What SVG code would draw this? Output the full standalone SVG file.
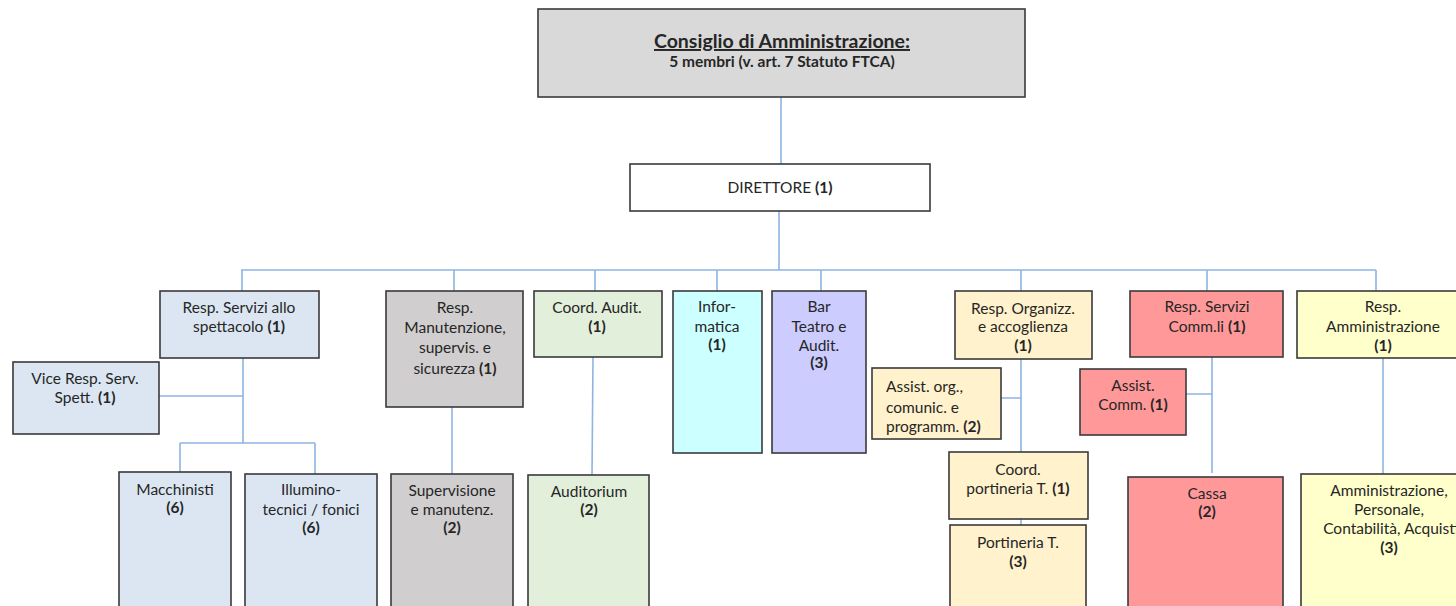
<svg xmlns="http://www.w3.org/2000/svg" width="1456" height="606" viewBox="0 0 1456 606">
<style>
.n{stroke:#3a3a3a;stroke-width:1.6}
.t{font-family:Lato,"Liberation Sans",Arial,sans-serif;font-size:15.5px;fill:#262626;text-anchor:middle}
.l{text-anchor:start}
.b{font-weight:bold}
.c{fill:none;stroke:#8eb4e3;stroke-width:1.6}
.blue{fill:#dce6f2}.grey{fill:#d0cece}.green{fill:#e2efda}.cyan{fill:#ccffff}.lav{fill:#ccccff}.peach{fill:#fff2cc}.red{fill:#ff9999}.yel{fill:#ffffcc}
</style>
<rect width="1456" height="606" fill="#ffffff"/>
<g id="connectors">
<path class="c" d="M781 97V164"/>
<path class="c" d="M779 211V270"/>
<path class="c" d="M241 270H1376"/>
<path class="c" d="M242 270V291M454 270V291M595 270V291M717 270V291M821 270V291M1021 270V291M1207 270V291M1376 270V291"/>
<path class="c" d="M243 358V443M159 396H243M180 443H315M180 443V472M315 443V474"/>
<path class="c" d="M452 407V474"/>
<path class="c" d="M593 357L592 475"/>
<path class="c" d="M1021 359V452M1001 398H1021M1021 519V525"/>
<path class="c" d="M1212 357V473M1186 394H1212"/>
<path class="c" d="M1383 358V474"/>
</g>
<g id="cda">
<rect class="n" x="538" y="9" width="487" height="88" fill="#d9d9d9"/>
<text class="t b" x="782" y="48" style="font-size:19.5px;text-decoration:underline">Consiglio di Amministrazione:</text>
<text class="t b" x="782" y="67" style="font-size:15.5px">5 membri (v. art. 7 Statuto FTCA)</text>
</g>
<g id="direttore">
<rect class="n" x="630" y="164" width="300" height="47" fill="#ffffff"/>
<text class="t" x="780" y="193">DIRETTORE <tspan class="b">(1)</tspan></text>
</g>
<g id="resp-servizi-spettacolo">
<rect class="n blue" x="160" y="291" width="159" height="67"/>
<text class="t" x="239" y="313">Resp. Servizi allo</text>
<text class="t" x="239" y="332">spettacolo <tspan class="b">(1)</tspan></text>
</g>
<g id="vice-resp">
<rect class="n blue" x="13" y="362" width="146" height="72"/>
<text class="t" x="85" y="384">Vice Resp. Serv.</text>
<text class="t" x="85" y="403">Spett. <tspan class="b">(1)</tspan></text>
</g>
<g id="macchinisti">
<rect class="n blue" x="119" y="472" width="112" height="145"/>
<text class="t" x="175" y="495">Macchinisti</text>
<text class="t b" x="175" y="513">(6)</text>
</g>
<g id="illuminotecnici">
<rect class="n blue" x="245" y="474" width="132" height="145"/>
<text class="t" x="311" y="495">Illumino-</text>
<text class="t" x="311" y="515">tecnici / fonici</text>
<text class="t b" x="311" y="533">(6)</text>
</g>
<g id="resp-manutenzione">
<rect class="n grey" x="386" y="291" width="137" height="116"/>
<text class="t" x="455" y="313">Resp.</text>
<text class="t" x="455" y="333">Manutenzione,</text>
<text class="t" x="455" y="353">supervis. e</text>
<text class="t" x="455" y="374">sicurezza <tspan class="b">(1)</tspan></text>
</g>
<g id="supervisione">
<rect class="n grey" x="391" y="474" width="122" height="145"/>
<text class="t" x="452" y="496">Supervisione</text>
<text class="t" x="452" y="515">e manutenz.</text>
<text class="t b" x="452" y="533">(2)</text>
</g>
<g id="coord-audit">
<rect class="n green" x="534" y="291" width="128" height="66"/>
<text class="t" x="597" y="313">Coord. Audit.</text>
<text class="t b" x="597" y="332">(1)</text>
</g>
<g id="auditorium">
<rect class="n green" x="528" y="475" width="121" height="145"/>
<text class="t" x="589" y="497">Auditorium</text>
<text class="t b" x="589" y="515">(2)</text>
</g>
<g id="informatica">
<rect class="n cyan" x="673" y="291" width="89" height="162"/>
<text class="t" x="717" y="312">Infor-</text>
<text class="t" x="717" y="332">matica</text>
<text class="t b" x="717" y="350">(1)</text>
</g>
<g id="bar">
<rect class="n lav" x="772" y="291" width="94" height="162"/>
<text class="t" x="819" y="312">Bar</text>
<text class="t" x="819" y="332">Teatro e</text>
<text class="t" x="819" y="351">Audit.</text>
<text class="t b" x="819" y="368">(3)</text>
</g>
<g id="resp-organizz">
<rect class="n peach" x="955" y="291" width="137" height="68"/>
<text class="t" x="1023" y="314">Resp. Organizz.</text>
<text class="t" x="1023" y="332">e accoglienza</text>
<text class="t b" x="1023" y="351">(1)</text>
</g>
<g id="assist-org">
<rect class="n peach" x="872" y="368" width="129" height="71"/>
<text class="t l" x="886" y="392">Assist. org.,</text>
<text class="t l" x="886" y="413">comunic. e</text>
<text class="t l" x="886" y="432">programm. <tspan class="b">(2)</tspan></text>
</g>
<g id="coord-portineria">
<rect class="n peach" x="949" y="452" width="139" height="67"/>
<text class="t" x="1018" y="475">Coord.</text>
<text class="t" x="1018" y="494">portineria T. <tspan class="b">(1)</tspan></text>
</g>
<g id="portineria">
<rect class="n peach" x="950" y="525" width="136" height="95"/>
<text class="t" x="1018" y="548">Portineria T.</text>
<text class="t b" x="1018" y="567">(3)</text>
</g>
<g id="resp-servizi-comm">
<rect class="n red" x="1130" y="291" width="153" height="66"/>
<text class="t" x="1207" y="312">Resp. Servizi</text>
<text class="t" x="1207" y="332">Comm.li <tspan class="b">(1)</tspan></text>
</g>
<g id="assist-comm">
<rect class="n red" x="1080" y="369" width="106" height="66"/>
<text class="t" x="1133" y="391">Assist.</text>
<text class="t" x="1133" y="410">Comm. <tspan class="b">(1)</tspan></text>
</g>
<g id="cassa">
<rect class="n red" x="1128" y="477" width="155" height="145"/>
<text class="t" x="1207" y="499">Cassa</text>
<text class="t b" x="1207" y="517">(2)</text>
</g>
<g id="resp-amministrazione">
<rect class="n yel" x="1297" y="291" width="170" height="67"/>
<text class="t" x="1383" y="312">Resp.</text>
<text class="t" x="1383" y="332">Amministrazione</text>
<text class="t b" x="1383" y="351">(1)</text>
</g>
<g id="amministrazione">
<rect class="n yel" x="1301" y="474" width="170" height="145"/>
<text class="t" x="1389" y="496">Amministrazione,</text>
<text class="t" x="1389" y="515">Personale,</text>
<text class="t" x="1391" y="534">Contabilità, Acquisti</text>
<text class="t b" x="1389" y="553">(3)</text>
</g>
</svg>
